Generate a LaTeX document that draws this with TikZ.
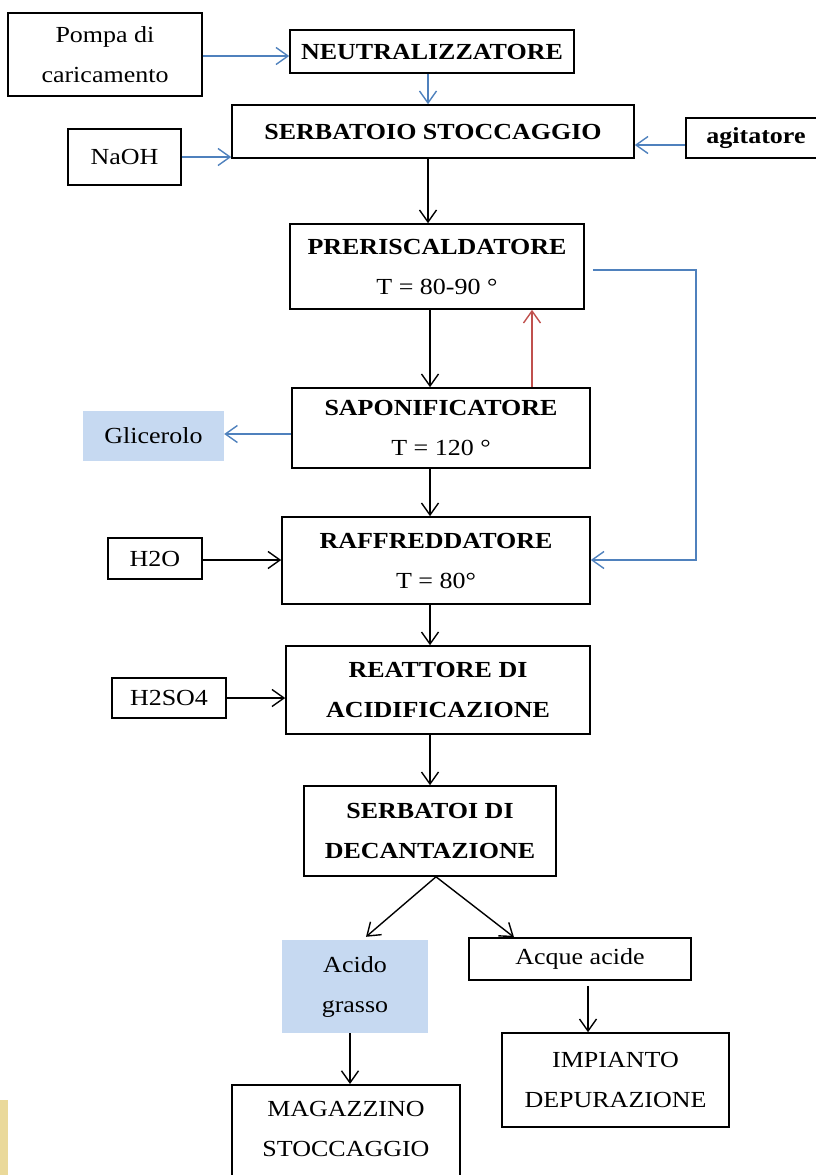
\documentclass[tikz,border=0pt]{standalone}
\usepackage{fontspec}
\setmainfont{Liberation Serif}[FakeStretch=1.13]
\usepackage{tikz}
\usetikzlibrary{arrows.meta,positioning,calc}
\usepackage{xcolor}
\definecolor{flowblue}{HTML}{4F81BD}
\definecolor{flowred}{HTML}{C0504D}
\definecolor{lightfill}{HTML}{C6D9F1}
\definecolor{stripgold}{HTML}{EAD99A}

\begin{document}
\begin{tikzpicture}[x=1pt, y=-1pt,
    box/.style={draw, line width=1.6pt, inner sep=0pt, align=center,
        font=\fontsize{23}{40}\selectfont},
    shaded/.style={fill=lightfill, inner sep=0pt, align=center,
        font=\fontsize{23}{40}\selectfont},
    flow/.style={-{Straight Barb[length=12pt,width=17pt]}, line width=1.4pt},
    blueflow/.style={flow, flowblue},
    redflow/.style={flow, flowred}]
    \useasboundingbox (0,0) rectangle (816,1175);
    \fill[stripgold] (0,1100) rectangle (8,1175);

    % top: feed
    \node[box, minimum width=194pt, minimum height=83pt] (pompa) at (105,54.5) {Pompa di\\caricamento};
    \node[box, minimum width=284pt, minimum height=43pt] (neutr) at (432,51.5) {\textbf{NEUTRALIZZATORE}};
    \node[box, minimum width=402pt, minimum height=53pt] (serb) at (433,131.5) {\textbf{SERBATOIO STOCCAGGIO}};
    \node[box, minimum width=113pt, minimum height=56pt] (naoh) at (124.5,157) {NaOH};
    \node[box, minimum width=140pt, minimum height=40pt] (agit) at (756,138) {\textbf{agitatore}};

    % process line
    \node[box, minimum width=294pt, minimum height=85pt] (preh) at (437,266.5) {\textbf{PRERISCALDATORE}\\T = 80-90 °};
    \node[box, minimum width=298pt, minimum height=80pt] (sapon) at (441,428) {\textbf{SAPONIFICATORE}\\T = 120 °};
    \node[shaded, minimum width=141pt, minimum height=50pt] (glic) at (153.5,436) {Glicerolo};
    \node[box, minimum width=308pt, minimum height=87pt] (raff) at (436,560.5) {\textbf{RAFFREDDATORE}\\T = 80°};
    \node[box, minimum width=94pt, minimum height=41pt] (acqua) at (155,558.5) {H2O};
    \node[box, minimum width=304pt, minimum height=88pt] (reatt) at (438,690) {\textbf{REATTORE DI}\\\textbf{ACIDIFICAZIONE}};
    \node[box, minimum width=114pt, minimum height=40pt] (acido) at (169,698) {H2SO4};
    \node[box, minimum width=252pt, minimum height=90pt] (decant) at (430,831) {\textbf{SERBATOI DI}\\\textbf{DECANTAZIONE}};

    % outputs
    \node[shaded, minimum width=146pt, minimum height=93pt] (grasso) at (355,986.5) {Acido\\grasso};
    \node[box, minimum width=222pt, minimum height=42pt] (acque) at (580,959) {Acque acide};
    \node[box, minimum width=227pt, minimum height=94pt] (depur) at (615.5,1080) {IMPIANTO\\DEPURAZIONE};
    \node[box, anchor=north, minimum width=228pt, inner ysep=16pt, text depth=70pt] (magaz) at (346,1084) {MAGAZZINO\\STOCCAGGIO};

    % connectors
    \draw[blueflow] (pompa.east |- 0,56) -- (neutr.west |- 0,56);
    \draw[blueflow] (neutr.south -| 428,0) -- (serb.north -| 428,0);
    \draw[blueflow] (naoh.east) -- (serb.west |- naoh.east);
    \draw[blueflow] (agit.west |- 0,145) -- (serb.east |- 0,145);
    \draw[flow] (serb.south -| 428,0) -- (preh.north -| 428,0);
    \draw[flow] (preh.south -| 430,0) -- (sapon.north -| 430,0);
    \draw[redflow] (sapon.north -| 532,0) -- (preh.south -| 532,0);
    \draw[blueflow] ($(preh.east |- 0,270)+(8,0)$) -| (696,560) -- (raff.east |- 0,560);
    \draw[blueflow] (sapon.west |- 0,434) -- (glic.east |- 0,434);
    \draw[flow] (sapon.south -| 430,0) -- (raff.north -| 430,0);
    \draw[flow] (acqua.east |- 0,560) -- (raff.west |- 0,560);
    \draw[flow] (raff.south -| 430,0) -- (reatt.north -| 430,0);
    \draw[flow] (acido.east) -- (reatt.west |- acido.east);
    \draw[flow] (reatt.south -| 430,0) -- (decant.north -| 430,0);
    \draw[flow] (decant.south -| 436,0) -- ($(grasso.north)+(11,-3)$);
    \draw[flow] (decant.south -| 436,0) -- ($(acque.north)+(-66,0)$);
    \draw[flow] ($(acque.south -| 588,0)+(0,5)$) -- (depur.north -| 588,0);
    \draw[flow] (grasso.south -| 350,0) -- (magaz.north -| 350,0);
\end{tikzpicture}
\end{document}
